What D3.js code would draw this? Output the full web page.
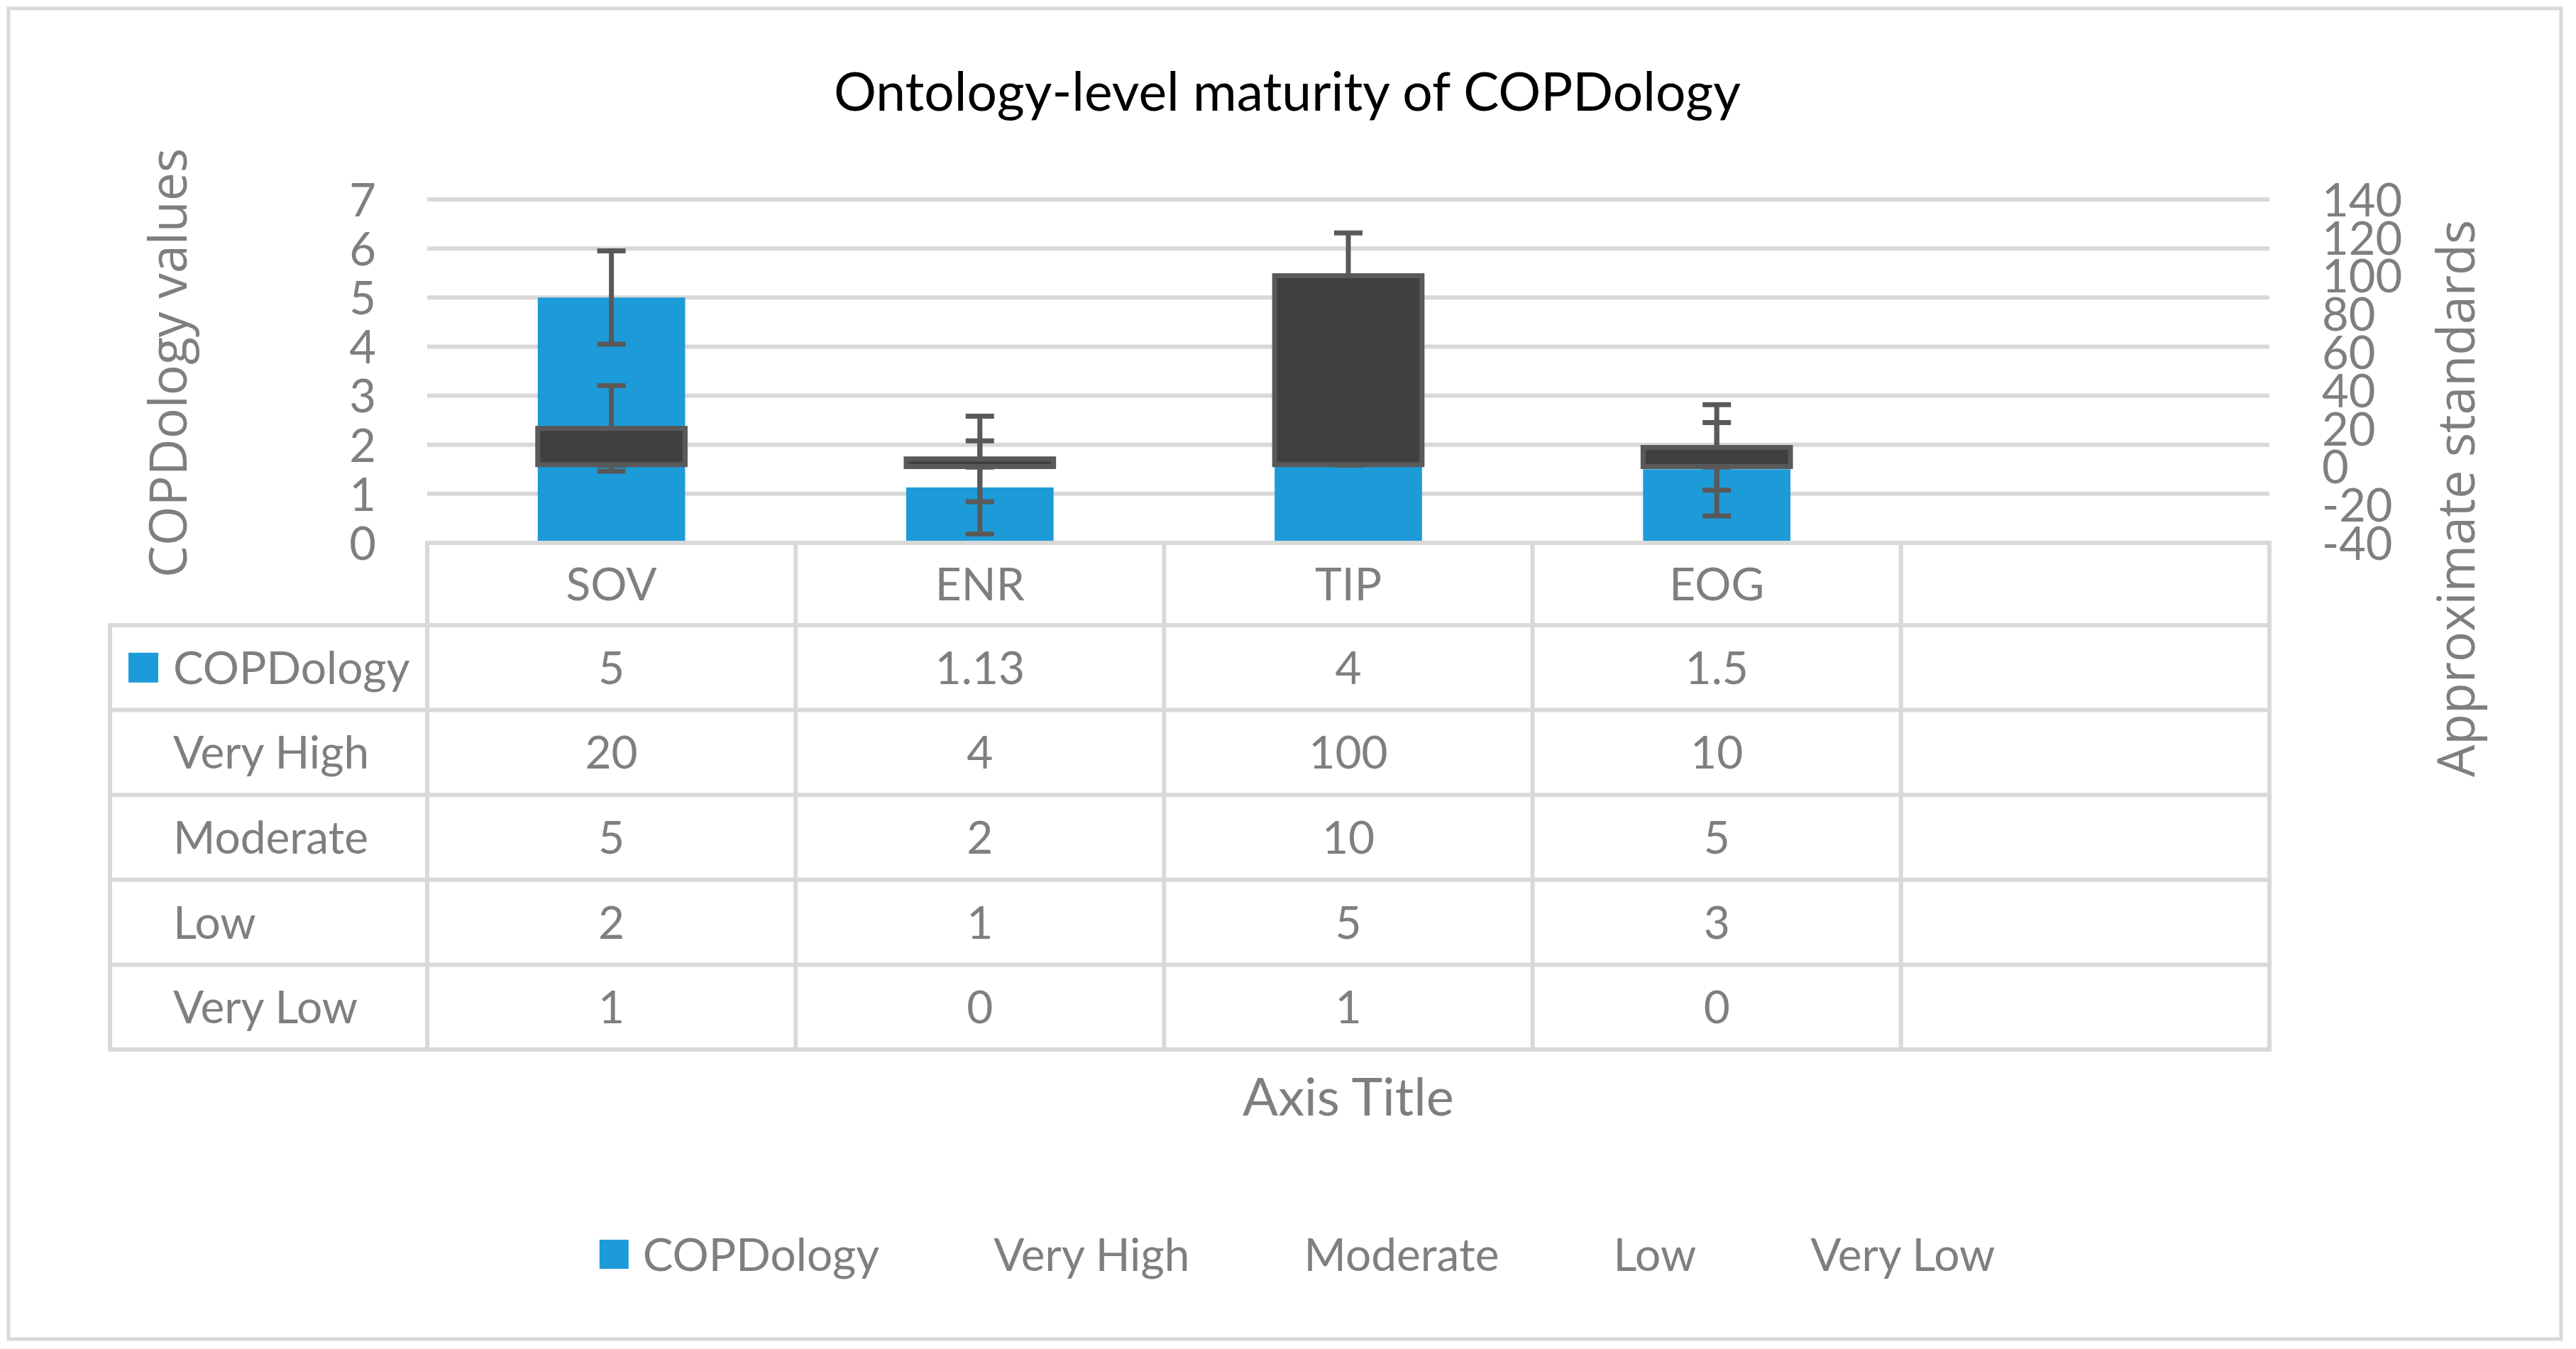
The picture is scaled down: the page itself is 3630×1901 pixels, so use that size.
<!DOCTYPE html>
<html>
<head>
<meta charset="utf-8">
<title>Ontology-level maturity of COPDology</title>
<script src="https://cdn.jsdelivr.net/npm/d3@7"></script>
<style>
  body { margin: 0; background: #fff; }
  svg { display: block; }
  .calibri { font-family: Lato, "Noto Sans", sans-serif; }
  .wide { font-family: "Open Sans", "Noto Sans", sans-serif; }
</style>
</head>
<body>
<svg id="chart" width="3630" height="1901"></svg>
<script>
// ---- data ----
const categories = ["SOV", "ENR", "TIP", "EOG", ""];
const seriesNames = ["COPDology", "Very High", "Moderate", "Low", "Very Low"];
const copdology = [5, 1.13, 4, 1.5];
const veryHigh = [20, 4, 100, 10];
const moderate = [5, 2, 10, 5];
const low = [2, 1, 5, 3];
const veryLow = [1, 0, 1, 0];
const leftTicks = [0, 1, 2, 3, 4, 5, 6, 7];
const rightTicks = [-40, -20, 0, 20, 40, 60, 80, 100, 120, 140];
// error bar half-lengths (standard error)
const errCopd = 0.95;
const errVeryHigh = 22.4;
const errModerate = 1.66;
const errLow = 0.85;
const errVeryLow = 0.29;

const gray = "#7f7f7f", grid = "#d9d9d9", dark = "#595959";
const blue = "#1d9bd8";

const svg = d3.select("#chart");

// outer chart border
svg.append("rect")
    .attr("x", 12).attr("y", 12)
    .attr("width", 3597).attr("height", 1875)
    .attr("fill", "#fff")
    .attr("stroke", grid)
    .attr("stroke-width", 5);

const plot = { left: 602, right: 3198, top: 281, bottom: 765 };

const xCol = d3.scaleBand().domain(categories).range([plot.left, plot.right]).padding(0);
const xBar = d3.scaleBand().domain(categories).range([plot.left, plot.right])
    .paddingInner(0.6).paddingOuter(0.3);
const yLeft = d3.scaleLinear().domain([0, 7]).range([plot.bottom, plot.top]);
const yRight = d3.scaleLinear().domain([-40, 140]).range([plot.bottom, plot.top]);

// title
svg.append("text")
    .attr("class", "calibri")
    .attr("x", 1814).attr("y", 156)
    .attr("text-anchor", "middle")
    .attr("font-size", 75)
    .attr("fill", "#000")
    .text("Ontology-level maturity of COPDology");

// gridlines
svg.append("g").selectAll("line")
    .data(leftTicks.filter(d => d > 0))
    .enter().append("line")
    .attr("x1", plot.left).attr("x2", plot.right)
    .attr("y1", d => yLeft(d)).attr("y2", d => yLeft(d))
    .attr("stroke", grid).attr("stroke-width", 6);

// left axis
const axL = svg.append("g")
    .attr("transform", "translate(" + 530 + ",0)")
    .call(d3.axisLeft(yLeft).tickValues(leftTicks).tickFormat(d => String(d)).tickSize(0).tickPadding(0));
axL.select(".domain").remove();
axL.selectAll("text")
    .attr("class", "calibri")
    .attr("font-size", 65)
    .attr("fill", gray)
    .attr("dy", "0.36em");

// right axis
const axR = svg.append("g")
    .attr("transform", "translate(" + 3272 + ",0)")
    .call(d3.axisRight(yRight).tickValues(rightTicks).tickFormat(d => String(d)).tickSize(0).tickPadding(0));
axR.select(".domain").remove();
axR.selectAll("text")
    .attr("class", "calibri")
    .attr("font-size", 65)
    .attr("fill", gray)
    .attr("dy", "0.36em");

// axis titles
svg.append("text")
    .attr("class", "wide")
    .attr("transform", "translate(263,814) rotate(-90)")
    .attr("font-size", 74)
    .attr("fill", gray)
    .attr("textLength", 605)
    .attr("lengthAdjust", "spacingAndGlyphs")
    .text("COPDology values");

svg.append("text")
    .attr("class", "wide")
    .attr("transform", "translate(3487,1095) rotate(-90)")
    .attr("font-size", 74)
    .attr("fill", gray)
    .attr("textLength", 785)
    .attr("lengthAdjust", "spacingAndGlyphs")
    .text("Approximate standards");

// COPDology columns
const bars = copdology.map((v, i) => ({ cat: categories[i], v: v }));
svg.append("g").selectAll("rect")
    .data(bars)
    .enter().append("rect")
    .attr("x", d => xBar(d.cat))
    .attr("width", xBar.bandwidth())
    .attr("y", d => yLeft(d.v))
    .attr("height", d => yLeft(0) - yLeft(d.v))
    .attr("fill", blue);

// error bars
function errorBars(values, err, scale) {
    const g = svg.append("g")
        .attr("stroke", dark)
        .attr("stroke-width", 7);
    const data = values.map((v, i) => ({ cx: xBar(categories[i]) + xBar.bandwidth() / 2, lo: v - err, hi: v + err }));
    g.selectAll(".stem").data(data).enter().append("line")
        .attr("x1", d => d.cx).attr("x2", d => d.cx)
        .attr("y1", d => scale(d.lo)).attr("y2", d => scale(d.hi));
    ["lo", "hi"].forEach(k => {
        g.selectAll(".cap-" + k).data(data).enter().append("line")
            .attr("x1", d => d.cx - 20).attr("x2", d => d.cx + 20)
            .attr("y1", d => scale(d[k])).attr("y2", d => scale(d[k]));
    });
}
errorBars(copdology, errCopd, yLeft);
errorBars(veryHigh, errVeryHigh, yRight);
errorBars(moderate, errModerate, yRight);
errorBars(low, errLow, yRight);
errorBars(veryLow, errVeryLow, yRight);

// up-down bars between Very High and Very Low (secondary axis)
const ud = veryHigh.map((v, i) => ({ cat: categories[i], a: v, b: veryLow[i] }));
svg.append("g").selectAll("rect")
    .data(ud)
    .enter().append("rect")
    .attr("x", d => xBar(d.cat))
    .attr("width", xBar.bandwidth())
    .attr("y", d => yRight(Math.max(d.a, d.b)))
    .attr("height", d => Math.abs(yRight(d.a) - yRight(d.b)))
    .attr("fill", "#404040")
    .attr("stroke", dark)
    .attr("stroke-width", 7);

// ---- data table ----
const rowTop = 881, rowH = 119.6, tableLeft = 155;
const rows = [copdology, veryHigh, moderate, low, veryLow];
const tableBottom = rowTop + rowH * rows.length;
const tbl = svg.append("g").attr("stroke", grid).attr("stroke-width", 6);

// header top = category axis line
tbl.append("line")
    .attr("x1", plot.left - 3).attr("x2", plot.right + 3)
    .attr("y1", plot.bottom).attr("y2", plot.bottom);
tbl.selectAll(".hrow").data(d3.range(rows.length + 1)).enter().append("line")
    .attr("x1", tableLeft - 3).attr("x2", plot.right + 3)
    .attr("y1", i => rowTop + i * rowH).attr("y2", i => rowTop + i * rowH);
tbl.append("line")
    .attr("x1", tableLeft).attr("x2", tableLeft)
    .attr("y1", rowTop).attr("y2", tableBottom);
tbl.selectAll(".vcol").data(categories.map(c => xCol(c)).concat([plot.right])).enter().append("line")
    .attr("x1", d => d).attr("x2", d => d)
    .attr("y1", plot.bottom).attr("y2", tableBottom);

const fs = 64, capOff = fs * 0.36;

// category labels
svg.append("g").selectAll("text")
    .data(categories)
    .enter().append("text")
    .attr("class", "calibri")
    .attr("x", d => xCol(d) + xCol.bandwidth() / 2)
    .attr("y", (plot.bottom + rowTop) / 2 + capOff)
    .attr("text-anchor", "middle")
    .attr("font-size", fs)
    .attr("fill", gray)
    .text(d => d);

rows.forEach((vals, r) => {
    const cy = rowTop + rowH * (r + 0.5);
    svg.append("text")
        .attr("class", "calibri")
        .attr("x", 244).attr("y", cy + capOff)
        .attr("font-size", fs)
        .attr("fill", gray)
        .text(seriesNames[r]);
    svg.append("g").selectAll("text")
        .data(vals)
        .enter().append("text")
        .attr("class", "calibri")
        .attr("x", (d, i) => xCol(categories[i]) + xCol.bandwidth() / 2)
        .attr("y", cy + capOff)
        .attr("text-anchor", "middle")
        .attr("font-size", fs)
        .attr("fill", gray)
        .text(d => String(d));
});
// legend key in table
svg.append("rect")
    .attr("x", 181).attr("y", rowTop + rowH / 2 - 21)
    .attr("width", 42).attr("height", 42)
    .attr("fill", blue);

// x axis title
svg.append("text")
    .attr("class", "calibri")
    .attr("x", 1900).attr("y", 1572)
    .attr("text-anchor", "middle")
    .attr("font-size", 74)
    .attr("fill", gray)
    .text("Axis Title");

// ---- legend ----
const legY = 1768, legGap = 100;
const leg = svg.append("g");
const items = leg.selectAll("g")
    .data(seriesNames)
    .enter().append("g");
items.append("text")
    .attr("class", "calibri")
    .attr("x", 61)
    .attr("y", legY + capOff)
    .attr("font-size", fs)
    .attr("fill", gray)
    .text(d => d);
items.filter((d, i) => i === 0).append("rect")
    .attr("x", 0).attr("y", legY - 21)
    .attr("width", 41).attr("height", 41)
    .attr("fill", blue);
let cursor = 0;
items.each(function () {
    const w = d3.select(this).select("text").node().getComputedTextLength();
    d3.select(this).attr("transform", "translate(" + cursor + ",0)");
    cursor += 61 + w + legGap;
});
const legW = cursor - legGap;
leg.attr("transform", "translate(" + (1828 - legW / 2) + ",0)");
</script>
</body>
</html>
